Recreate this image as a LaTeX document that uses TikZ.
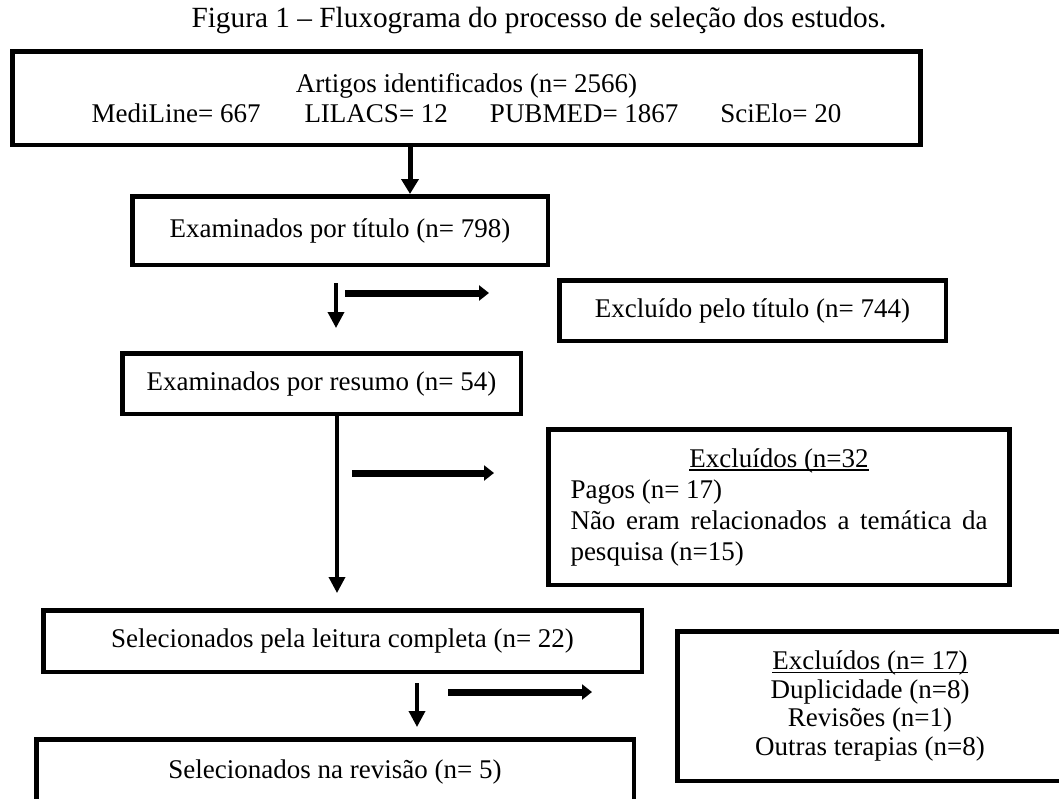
\documentclass[tikz,border=0pt]{standalone}
\usepackage{fontspec}
\setmainfont{Liberation Serif}
\usetikzlibrary{arrows.meta}
\newcommand\myul[1]{\leavevmode\setbox0\hbox{#1}\rlap{\rule[-3.5pt]{\wd0}{1.2pt}}\box0}
\begin{document}
\begin{tikzpicture}[x=1pt,y=-1pt,
  box/.style={draw=black,line width=4.5pt,inner sep=0pt,fill=white,
    font=\fontsize{27}{28.5}\selectfont,align=center},
  downarrow/.style={line width=3.5pt,-{Triangle[width=16pt,length=16pt]}},
  sidearrow/.style={line width=7pt,-{Triangle[width=15pt,length=10pt]}}]
\useasboundingbox (0,0) rectangle (1059,798);
\node[font=\fontsize{29.3}{32}\selectfont] (title) at (539,20) {Figura 1 – Fluxograma do processo de seleção dos estudos.};

\node[box,minimum width=908pt,minimum height=93.5pt,font=\fontsize{27}{30}\selectfont] (b1) at (466.5,98)
  {Artigos identificados (n= 2566)\\MediLine= 667\hspace{44pt}LILACS= 12\hspace{42pt}PUBMED= 1867\hspace{42pt}SciElo= 20};
\node[box,minimum width=415.5pt,minimum height=68.5pt] (b2) at (340,230.5)
  {Examinados por título (n= 798)};
\node[box,minimum width=386.5pt,minimum height=60.5pt] (b3) at (752.5,310.5)
  {Excluído pelo título (n= 744)};
\node[box,minimum width=398.5pt,minimum height=60.5pt] (b4) at (321.5,383.5)
  {Examinados por resumo (n= 54)};
\node[box,minimum width=461pt,minimum height=155.5pt] (b5) at (779,507)
  {\begin{minipage}{417pt}\fontsize{27}{31}\selectfont
   {\centering\myul{Excluídos (n=32}\par}
   \noindent Pagos (n= 17)\par
   \noindent Não eram relacionados a temática da pesquisa (n=15)\par
   \end{minipage}};
\node[box,minimum width=598.5pt,minimum height=61.5pt] (b6) at (342.5,641)
  {Selecionados pela leitura completa (n= 22)};
\node[box,minimum width=385.5pt,minimum height=149.5pt] (b7) at (870,706)
  {\myul{Excluídos (n= 17)}\\Duplicidade (n=8)\\Revisões (n=1)\\Outras terapias (n=8)};
\node[box,minimum width=597.5pt,minimum height=65.5pt] (b8) at (335,772)
  {Selecionados na revisão (n= 5)};

% main arrow from box 1 to box 2
\coordinate (c1) at (410,0);
\draw[line width=5pt,-{Triangle[width=17pt,length=15pt]}] (b1.south -| c1) -- (b2.north -| c1);

% pair after box 2
\coordinate (v1s) at (336,283);
\coordinate (v1e) at (336,328);
\draw[downarrow] (v1s) -- (v1e);
\coordinate (h1s) at (345,293);
\coordinate (h1e) at (489,293);
\draw[sidearrow] (h1s) -- (h1e);

% long arrow from box 4
\coordinate (c2) at (337,0);
\coordinate (v2e) at (337,593);
\draw[downarrow] (b4.south -| c2) -- (v2e);
\coordinate (h2s) at (352,473);
\coordinate (h2e) at (494,473);
\draw[sidearrow] (h2s) -- (h2e);

% pair after box 6
\coordinate (v3s) at (417,683);
\coordinate (v3e) at (417,727);
\draw[downarrow] (v3s) -- (v3e);
\coordinate (h3s) at (448,692);
\coordinate (h3e) at (592,692);
\draw[sidearrow] (h3s) -- (h3e);
\end{tikzpicture}
\end{document}
